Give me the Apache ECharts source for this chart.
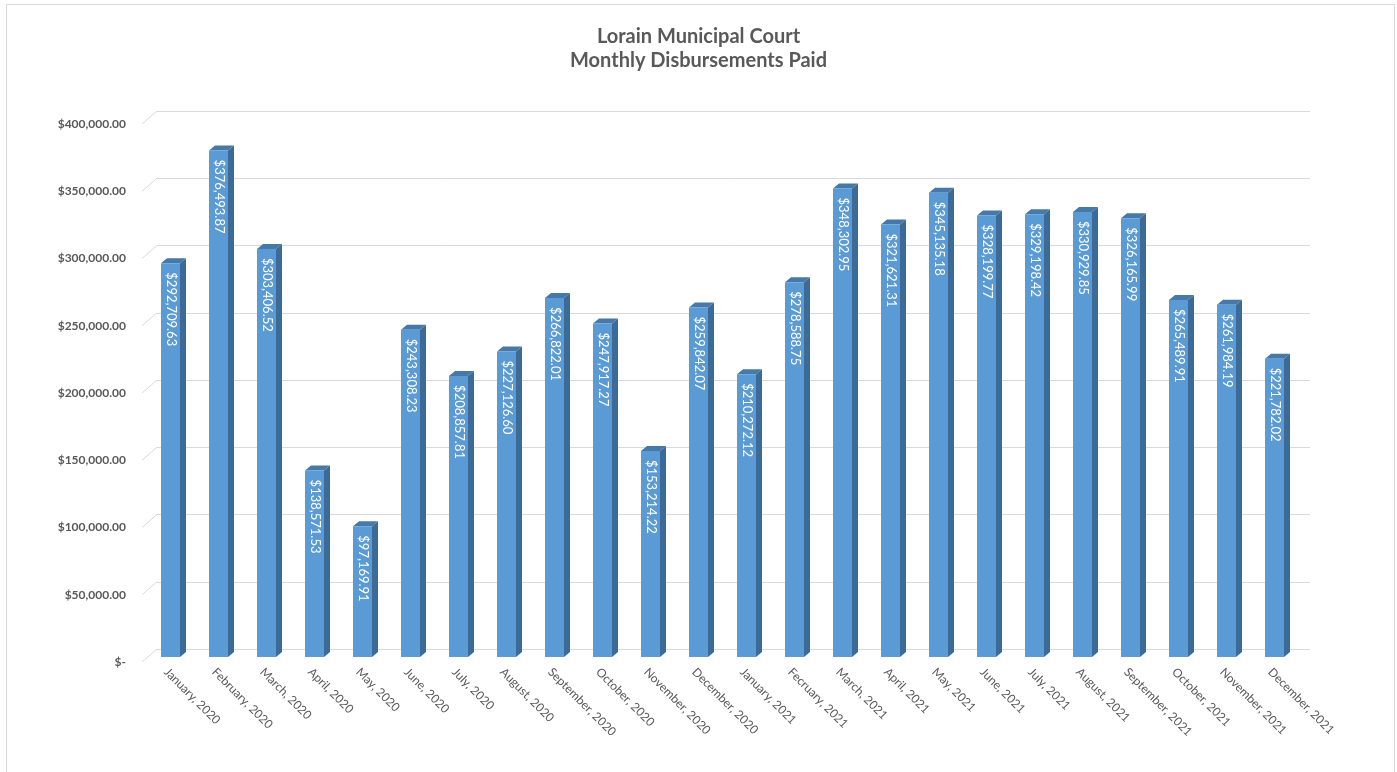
<!DOCTYPE html>
<html>
<head>
<meta charset="utf-8">
<script src="https://cdn.jsdelivr.net/npm/echarts@6/dist/echarts.min.js"></script>
<style>
html,body{margin:0;padding:0;background:#fff;}
#chart{width:1397px;height:772px;}
</style>
</head>
<body>
<div id="chart"></div>
<script>
var titleLines = ['Lorain Municipal Court', 'Monthly Disbursements Paid'];
var categories = [
  'January, 2020','February, 2020','March, 2020','April, 2020','May, 2020','June, 2020',
  'July, 2020','August, 2020','September, 2020','October, 2020','November, 2020','December, 2020',
  'January, 2021','Fecruary, 2021','March, 2021','April, 2021','May, 2021','June, 2021',
  'July, 2021','August, 2021','September, 2021','October, 2021','November, 2021','December, 2021'
];
var disbursements = [
  292709.63, 376493.87, 303406.52, 138571.53, 97169.91, 243308.23,
  208857.81, 227126.60, 266822.01, 247917.27, 153214.22, 259842.07,
  210272.12, 278588.75, 348302.95, 321621.31, 345135.18, 328199.77,
  329198.42, 330929.85, 326165.99, 265489.91, 261984.19, 221782.02
];
var yTicks = [0, 50000, 100000, 150000, 200000, 250000, 300000, 350000, 400000];

function money(v) {
  if (v === 0) return '$-';
  return '$' + v.toLocaleString('en-US', {minimumFractionDigits: 2, maximumFractionDigits: 2});
}

var FONT = 'Lato, "Open Sans", sans-serif';
var yMin = yTicks[0], yMax = yTicks[yTicks.length - 1], yStep = yTicks[1] - yTicks[0];

var chart = echarts.init(document.getElementById('chart'), null, {renderer: 'canvas'});

var grids = [
  {left: 142, width: 1152, top: 124, height: 538},   // front plane (labels)
  {left: 146.5, width: 1152, top: 119, height: 538}, // bars
  {left: 157, width: 1153, top: 111, height: 538}    // back wall (gridlines)
];

function yAxisCfg(gi, showLabels, showSplit) {
  return {
    type: 'value', gridIndex: gi, min: yMin, max: yMax, interval: yStep,
    axisLine: {show: false}, axisTick: {show: false},
    splitLine: {show: showSplit, lineStyle: {color: '#D9D9D9', width: 1}},
    axisLabel: {
      show: showLabels, margin: 16, color: '#595959', fontFamily: FONT,
      fontSize: 12, fontWeight: 'bold', formatter: money
    }
  };
}
function xAxisCfg(gi, showLabels) {
  return {
    type: 'category', gridIndex: gi, data: categories,
    axisLine: {show: false}, axisTick: {show: false}, splitLine: {show: false},
    axisLabel: {
      show: showLabels, interval: 0, rotate: -45, margin: 8,
      color: '#595959', fontFamily: FONT, fontSize: 12
    }
  };
}

var option = {
  animation: false,
  backgroundColor: '#ffffff',
  title: {
    text: titleLines.join('\n'),
    left: 'center', top: 20,
    textStyle: {fontFamily: FONT, fontSize: 20, fontWeight: 'bold', color: '#595959', lineHeight: 24}
  },
  graphic: [{
    type: 'rect', silent: true, z: -10,
    shape: {x: 6.5, y: 4.5, width: 1388, height: 780},
    style: {fill: 'none', stroke: '#D9D9D9', lineWidth: 1}
  }],
  grid: grids,
  xAxis: [xAxisCfg(0, true), xAxisCfg(1, false), xAxisCfg(2, false)],
  yAxis: [yAxisCfg(0, true, false), yAxisCfg(1, false, false), yAxisCfg(2, false, true)],
  series: [
    {
      // diagonal floor/wall connectors at each tick
      type: 'custom', xAxisIndex: 0, yAxisIndex: 0, silent: true, z: 1,
      data: yTicks.map(function (t) { return [0, t]; }),
      renderItem: function (params, api) {
        var y = api.coord([0, api.value(1)])[1];
        var x = params.coordSys.x;
        return {
          type: 'line',
          shape: {x1: x, y1: y, x2: x + 15, y2: y - 13},
          style: {stroke: '#D9D9D9', lineWidth: 1}
        };
      }
    },
    {
      type: 'custom', xAxisIndex: 1, yAxisIndex: 1, z: 5,
      data: disbursements.map(function (v, i) { return [i, v]; }),
      renderItem: function (params, api) {
        var idx = api.value(0), v = api.value(1);
        var base = api.coord([idx, 0]);
        var top = api.coord([idx, v]);
        var w = 19, dx = 6, dy = 5;
        var x0 = base[0] - w / 2;
        return {
          type: 'group',
          children: [
            {type: 'polygon', shape: {points: [[x0 + w, top[1]], [x0 + w + dx, top[1] - dy], [x0 + w + dx, base[1] - dy], [x0 + w, base[1]]]},
             style: {fill: '#3D6B97'}},
            {type: 'polygon', shape: {points: [[x0, top[1]], [x0 + dx, top[1] - dy], [x0 + w + dx, top[1] - dy], [x0 + w, top[1]]]},
             style: {fill: '#4678A8'}},
            {type: 'rect', shape: {x: x0, y: top[1], width: w, height: base[1] - top[1]},
             style: {fill: '#5B9BD5'}},
            {type: 'text', x: base[0] + 0.5, y: top[1] + 9, rotation: -Math.PI / 2,
             style: {text: money(v), fill: '#ffffff', font: '13px ' + FONT, align: 'left', verticalAlign: 'middle'}}
          ]
        };
      }
    }
  ]
};
chart.setOption(option);
</script>
</body>
</html>
